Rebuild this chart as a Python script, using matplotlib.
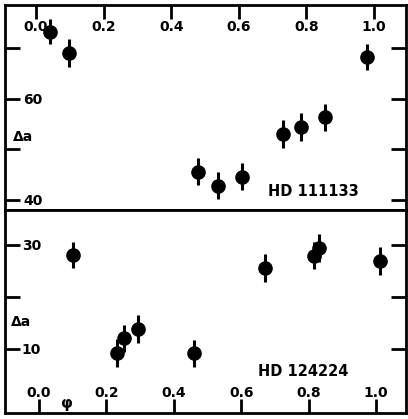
"""Two-panel phase plot of Delta a for HD 111133 and HD 124224."""

import matplotlib
matplotlib.use("Agg")
from matplotlib import pyplot as plt
from matplotlib.ticker import FixedFormatter, FixedLocator

# HD 111133 (top panel)
phase_top = [0.041, 0.098, 0.479, 0.538, 0.609, 0.731, 0.784, 0.855, 0.979]
da_top = [73.2, 69.0, 45.6, 42.8, 44.6, 53.0, 54.4, 56.3, 68.2]
err_top = [2.5, 2.7, 2.7, 2.7, 2.7, 2.8, 2.8, 2.7, 2.6]

# HD 124224 (bottom panel)
phase_bot = [0.101, 0.231, 0.253, 0.293, 0.461, 0.671, 0.816, 0.831, 1.012]
da_bot = [28.1, 9.2, 12.1, 13.8, 9.2, 25.6, 27.9, 29.4, 26.9]
err_bot = [2.5, 2.7, 2.6, 2.7, 2.6, 2.7, 2.6, 2.6, 2.6]

x_ticks = [0.0, 0.2, 0.4, 0.6, 0.8, 1.0]
x_ticklabels = ["0.0", "0.2", "0.4", "0.6", "0.8", "1.0"]
y_ticks_top = [40, 50, 60, 70]
y_ticklabels_top = ["40", "", "60", ""]
y_ticks_bot = [10, 20, 30]
y_ticklabels_bot = ["10", "", "30"]

W, H = 408, 419
plt.rcParams["font.family"] = "DejaVu Sans"
plt.rcParams["font.weight"] = "bold"
plt.rcParams["font.size"] = 10

fig = plt.figure(figsize=(W / 100, H / 100), dpi=100)
ax_top = fig.add_axes([5 / W, (H - 210) / H, 401 / W, 205 / H])
ax_bot = fig.add_axes([5 / W, (H - 413) / H, 401 / W, 203 / H])

for ax, x, y, e in [
    (ax_top, phase_top, da_top, err_top),
    (ax_bot, phase_bot, da_bot, err_bot),
]:
    ax.errorbar(x, y, yerr=e, fmt="o", color="black", ms=9.5,
                elinewidth=2.2, capsize=0)
    for s in ax.spines.values():
        s.set_linewidth(2.0)
    ax.set_xticks(x_ticks)
    ax.set_xticklabels(x_ticklabels)

# top panel
ax_top.set_xlim(-0.092, 1.095)
ax_top.set_ylim(38.0, 78.5)
ax_top.xaxis.set_ticks_position("top")
ax_top.tick_params(axis="x", direction="in", length=10, width=2, pad=-21,
                   labelsize=10)
ax_top.yaxis.set_major_locator(FixedLocator(y_ticks_top))
ax_top.yaxis.set_major_formatter(FixedFormatter(y_ticklabels_top))
ax_top.tick_params(axis="y", direction="in", length=11, width=2, pad=-27,
                   right=True, labelsize=10)
ax_top.text(0.02, 0.355, "Δa", transform=ax_top.transAxes, fontsize=10,
            fontweight="bold", va="center", ha="left")
ax_top.text(0.655, 0.088, "HD 111133", transform=ax_top.transAxes,
            fontsize=10.5, fontweight="bold", va="center", ha="left")

# bottom panel
ax_bot.set_xlim(-0.101, 1.089)
ax_bot.set_ylim(-2.3, 36.7)
ax_bot.tick_params(axis="x", direction="in", length=10, width=2, pad=-19.5,
                   labelsize=10)
ax_bot.yaxis.set_major_locator(FixedLocator(y_ticks_bot))
ax_bot.yaxis.set_major_formatter(FixedFormatter(y_ticklabels_bot))
ax_bot.tick_params(axis="y", direction="in", length=11, width=2, pad=-26,
                   right=True, labelsize=10)
ax_bot.text(0.016, 0.45, "Δa", transform=ax_bot.transAxes, fontsize=10,
            fontweight="bold", va="center", ha="left")
ax_bot.text(0.632, 0.206, "HD 124224", transform=ax_bot.transAxes,
            fontsize=10.5, fontweight="bold", va="center", ha="left")
ax_bot.text(0.155, 0.01, "φ", transform=ax_bot.transAxes, fontsize=11,
            fontweight="bold", va="bottom", ha="center")

fig.savefig("out.png", dpi=100)
